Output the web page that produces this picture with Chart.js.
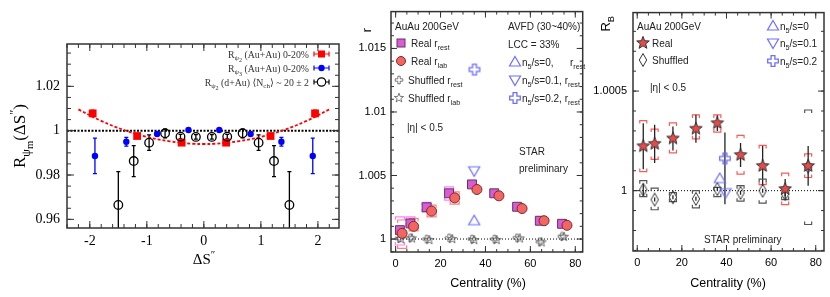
<!DOCTYPE html>
<html>
<head>
<meta charset="utf-8">
<script src="https://cdn.jsdelivr.net/npm/chart.js@4.4.0/dist/chart.umd.min.js"></script>
<style>
  html, body { margin: 0; padding: 0; background: #fff; }
  #wrap { position: relative; width: 830px; height: 297px; overflow: hidden; }
  canvas { position: absolute; top: 0; }
</style>
</head>
<body>
<div id="wrap">
  <canvas id="c1" width="350" height="297" style="left:0px"></canvas>
  <canvas id="c2" width="240" height="297" style="left:350px"></canvas>
  <canvas id="c3" width="240" height="297" style="left:590px"></canvas>
</div>
<script>
// ---------- panel 1 : R_psi(dS'') ----------
const p1XTicks = [-2, -1, 0, 1, 2];
const p1XLabels = ['-2', '-1', '0', '1', '2'];
const p1YTicks = [0.96, 0.98, 1, 1.02];
const p1YLabels = ['0.96', '0.98', '1', '1.02'];

const psi2X = [-1.95, -1.17, -0.39, 0.39, 1.17, 1.95];
const psi2AuAu = [1.0078, 0.9976, 0.9946, 0.9946, 0.9976, 1.0078];
const psi2AuAuErr = [0.0015, 0.0006, 0.0006, 0.0006, 0.0006, 0.0015];

const psi3X = [-1.91, -1.36, -0.82, -0.27, 0.27, 0.82, 1.36, 1.91];
const psi3AuAu = [0.9886, 0.9950, 0.9985, 1.0003, 1.0003, 0.9985, 0.9950, 0.9886];
const psi3AuAuErr = [0.0080, 0.0020, 0.0005, 0.0004, 0.0004, 0.0005, 0.0020, 0.0080];

const dAuX = [-1.5, -1.23, -0.96, -0.68, -0.41, -0.14, 0.14, 0.41, 0.68, 0.96, 1.23, 1.5];
const psi2dAu = [0.9665, 0.9863, 0.9946, 0.9988, 0.9973, 0.9972, 0.9972, 0.9973, 0.9988, 0.9946, 0.9863, 0.9665];
const psi2dAuErr = [0.015, 0.007, 0.0035, 0.002, 0.001, 0.001, 0.001, 0.001, 0.002, 0.0035, 0.007, 0.015];

const fitX = [-2.2, -1.8, -1.4, -1.0, -0.6, -0.2, 0, 0.2, 0.6, 1.0, 1.4, 1.8, 2.2];
const fitY = [1.0096, 1.0044, 1.0003, 0.9972, 0.9952, 0.9941, 0.9940, 0.9941, 0.9952, 0.9972, 1.0003, 1.0044, 1.0096];

// ---------- panel 2 : r vs centrality ----------
const centTicks = [0, 20, 40, 60, 80];
const centLabels = ['0', '20', '40', '60', '80'];
const p2YTicks = [1, 1.005, 1.01, 1.015];
const p2YLabels = ['1', '1.005', '1.01', '1.015'];

const restX = [1.9, 6.6, 13.8, 23.8, 34.0, 43.9, 54.1, 64.2, 74.1];
const realRest = [1.0007, 1.00123, 1.0025, 1.0036, 1.0043, 1.0036, 1.00254, 1.00144, 1.0012];
const realRestSysHi = [1.00175, 1.00175, 1.00288, 1.0041, null, null, null, null, null];
const realRestSysLo = [0.99953, 1.0010, 1.00214, 1.00306, null, null, null, null, null];

const labX = [2.9, 8.0, 16.0, 26.3, 36.2, 46.0, 56.3, 66.1, 76.3];
const realLab = [1.00045, 1.0010, 1.0022, 1.00324, 1.0039, 1.0034, 1.0024, 1.00144, 1.00108];
const realLabSysHi = [1.0015, 1.00162, 1.00267, 1.00371, null, null, null, null, null];
const realLabSysLo = [0.99927, 1.00065, 1.00175, 1.00275, null, null, null, null, null];

const shufRestX = [1.5, 6.5, 13.8, 23.8, 34.0, 44.0, 54.0, 64.2, 74.0];
const shufRest = [1.00005, 1.0001, 1.0, 1.0001, 1.0, 1.0, 1.0001, 0.9998, 1.0002];
const shufLabX = [2.3, 7.3, 15.0, 25.2, 35.0, 45.0, 55.3, 65.0, 75.0];
const shufLab = [1.0, 1.00005, 0.99992, 1.0, 0.99992, 0.99992, 1.00005, 0.99974, 1.00018];

// AVFD n5/s = 0, 0.1, 0.2
const avfd2X = [35.0, 35.0, 35.1];
const avfd2R = [1.00144, 1.00537, 1.01334];

// ---------- panel 3 : R_B vs centrality ----------
const p3YTicks = [1, 1.0005];
const p3YLabels = ['1', '1.0005'];

const rbX = [2.7, 7.8, 16.0, 26.3, 35.9, 46.3, 56.2, 66.3, 76.6];
const rbReal = [1.000223, 1.000235, 1.000262, 1.000311, 1.000339, 1.000179, 1.000124, 1.000008, 1.000124];
const rbRealErr = [0.000116, 0.000096, 0.00006, 0.00007, 0.00004, 0.00006, 0.0001, 0.00005, 0.0001];
const rbRealSysHi = [1.000352, 1.000309, 1.00034, 1.00038, 1.00038, 1.000278, 1.000227, 1.000088, 1.000185];
const rbRealSysLo = [1.000096, 1.000157, 1.00019, 1.00026, 1.000294, 1.000083, 1.00003, 0.99993, 1.000066];

const rbShuf = [1.000005, 0.999955, 0.999967, 0.999959, 1.000008, 0.999989, 1.0, 0.999983, 1.00012];
const rbShufErr = [0.00003, 0.00001, 0.00001, 0.00001, 0.00001, 0.00001, 0.00001, 0.00001, 0.00001];
const rbShufSysHi = [1.00005, 1.000013, 0.99999, 1.0, 1.000016, 1.000025, 1.000058, 1.000016, 1.000405];
const rbShufSysLo = [0.99997, 0.999904, 0.999945, 0.999914, 0.99997, 0.999947, 0.999937, 0.999955, 0.99983];

const avfd3X = [37.0, 39.6, 39.3];
const avfd3R = [1.000061, 0.99999, 1.000162];

// ---------- helpers ----------
const serif = '"Liberation Serif", "DejaVu Serif", serif';
const sans = '"Liberation Sans", Arial, sans-serif';
const AVFD = '#6e6eff';

const pts = (xs, ys) => xs.map((x, i) => ({ x: x, y: ys[i] }));

function mk(w, h, draw) {
  const c = document.createElement('canvas');
  c.width = w; c.height = h;
  const g = c.getContext('2d');
  g.translate(w / 2, h / 2);
  draw(g);
  return c;
}
function starPath(g, R, r) {
  g.beginPath();
  for (let k = 0; k < 10; k++) {
    const a = -Math.PI / 2 + k * Math.PI / 5;
    const rr = k % 2 ? r : R;
    g.lineTo(rr * Math.cos(a), rr * Math.sin(a));
  }
  g.closePath();
}
function crossPath(g, a, b) {
  g.beginPath();
  g.moveTo(-a, -b); g.lineTo(a, -b); g.lineTo(a, -a); g.lineTo(b, -a);
  g.lineTo(b, a); g.lineTo(a, a); g.lineTo(a, b); g.lineTo(-a, b);
  g.lineTo(-a, a); g.lineTo(-b, a); g.lineTo(-b, -a); g.lineTo(-a, -a);
  g.closePath();
}
const starRed = mk(16, 16, g => { starPath(g, 6.6, 2.8); g.fillStyle = '#e84a4a'; g.fill(); g.strokeStyle = '#333'; g.lineWidth = 1; g.stroke(); });
const starOpen = mk(12, 12, g => { starPath(g, 4.8, 2.0); g.strokeStyle = '#444'; g.lineWidth = 0.7; g.stroke(); });
const crossOpen = mk(10, 10, g => { crossPath(g, 1.2, 3.8); g.strokeStyle = '#444'; g.lineWidth = 0.7; g.stroke(); });
const crossBlue = mk(14, 14, g => { crossPath(g, 1.9, 5.3); g.strokeStyle = AVFD; g.lineWidth = 1.3; g.stroke(); });
const triUp = mk(14, 14, g => { g.beginPath(); g.moveTo(0, -5.5); g.lineTo(5.5, 4); g.lineTo(-5.5, 4); g.closePath(); g.strokeStyle = AVFD; g.lineWidth = 1.2; g.stroke(); });
const triDown = mk(14, 14, g => { g.beginPath(); g.moveTo(0, 5.5); g.lineTo(5.5, -4); g.lineTo(-5.5, -4); g.closePath(); g.strokeStyle = AVFD; g.lineWidth = 1.2; g.stroke(); });
const diamond = mk(10, 16, g => { g.beginPath(); g.moveTo(0, -6.5); g.lineTo(3.7, 0); g.lineTo(0, 6.5); g.lineTo(-3.7, 0); g.closePath(); g.strokeStyle = '#333'; g.lineWidth = 1; g.stroke(); });

// rich text: segs are strings or [text, kind] (1 sub, 2 sup, 3 small sub)
function rt(ctx, x, y, segs, base, family, align, color) {
  let w = 0;
  const parts = segs.map(s => {
    const t = Array.isArray(s) ? s[0] : s;
    const k = Array.isArray(s) ? s[1] : 0;
    const size = k === 0 ? base : (k === 3 ? base * 0.62 : base * 0.72);
    ctx.font = size + 'px ' + family;
    const mw = ctx.measureText(t).width;
    w += mw;
    return { t, k, size, mw };
  });
  let cx = align === 'right' ? x - w : align === 'center' ? x - w / 2 : x;
  ctx.fillStyle = color || '#000';
  ctx.textAlign = 'left';
  ctx.textBaseline = 'alphabetic';
  const by = y + base * 0.36;
  parts.forEach(p => {
    ctx.font = p.size + 'px ' + family;
    const dy = p.k === 1 ? base * 0.3 : p.k === 2 ? -base * 0.42 : p.k === 3 ? base * 0.45 : 0;
    ctx.fillText(p.t, cx, by + dy);
    cx += p.mw;
  });
}
function rtRot(ctx, x, y, segs, base, family, align, color) {
  ctx.save();
  ctx.translate(x, y);
  ctx.rotate(-Math.PI / 2);
  rt(ctx, 0, 0, segs, base, family, align, color);
  ctx.restore();
}
function bracket(ctx, x, yHi, yLo, color, w, t) {
  ctx.strokeStyle = color;
  ctx.lineWidth = 1.2;
  ctx.beginPath();
  ctx.moveTo(x - w, yHi + t); ctx.lineTo(x - w, yHi); ctx.lineTo(x + w, yHi); ctx.lineTo(x + w, yHi + t);
  ctx.moveTo(x - w, yLo - t); ctx.lineTo(x - w, yLo); ctx.lineTo(x + w, yLo); ctx.lineTo(x + w, yLo - t);
  ctx.stroke();
}

function panel(spec) {
  return {
    id: spec.id,
    beforeDatasetsDraw(chart) {
      const ctx = chart.ctx, a = chart.chartArea, ys = chart.scales.y;
      ctx.save();
      ctx.beginPath();
      ctx.rect(a.left, a.top, a.right - a.left, a.bottom - a.top);
      ctx.clip();
      const y1 = ys.getPixelForValue(1);
      ctx.strokeStyle = '#000';
      ctx.lineWidth = spec.refWidth;
      ctx.setLineDash(spec.refDash);
      ctx.beginPath(); ctx.moveTo(a.left, y1); ctx.lineTo(a.right, y1); ctx.stroke();
      ctx.setLineDash([]);
      chart.data.datasets.forEach((ds, i) => {
        const meta = chart.getDatasetMeta(i);
        meta.data.forEach((pt, j) => {
          const v = ds.data[j].y;
          if (ds.sysHi && ds.sysHi[j] != null) {
            bracket(ctx, pt.x, ys.getPixelForValue(ds.sysHi[j]), ys.getPixelForValue(ds.sysLo[j]), ds.sysColor, spec.bw, 3);
          }
          const up = ds.errUp ? ds.errUp[j] : ds.errY ? ds.errY[j] : 0;
          const dn = ds.errDn ? ds.errDn[j] : ds.errY ? ds.errY[j] : 0;
          if (up || dn) {
            const yt = ys.getPixelForValue(v + up), yb = ys.getPixelForValue(v - dn);
            ctx.strokeStyle = ds.errColor || ds.borderColor;
            ctx.lineWidth = 1.3;
            ctx.beginPath();
            ctx.moveTo(pt.x, yt); ctx.lineTo(pt.x, yb);
            if (spec.cap) {
              ctx.moveTo(pt.x - spec.cap, yt); ctx.lineTo(pt.x + spec.cap, yt);
              ctx.moveTo(pt.x - spec.cap, yb); ctx.lineTo(pt.x + spec.cap, yb);
            }
            ctx.stroke();
          }
        });
      });
      ctx.restore();
    },
    afterDatasetsDraw(chart) {
      const ctx = chart.ctx, a = chart.chartArea, xs = chart.scales.x, ys = chart.scales.y;
      ctx.save();
      ctx.strokeStyle = '#333';
      ctx.lineWidth = 1.5;
      ctx.strokeRect(a.left, a.top, a.right - a.left, a.bottom - a.top);
      ctx.lineWidth = 1;
      ctx.beginPath();
      const tick = (min, max, step, len, vertical) => {
        for (let k = Math.ceil(min / step - 1e-6); k * step <= max + 1e-9; k++) {
          const v = k * step;
          if (vertical) {
            const px = xs.getPixelForValue(v);
            ctx.moveTo(px, a.bottom); ctx.lineTo(px, a.bottom - len);
            ctx.moveTo(px, a.top); ctx.lineTo(px, a.top + len);
          } else {
            const py = ys.getPixelForValue(v);
            ctx.moveTo(a.left, py); ctx.lineTo(a.left + len, py);
            ctx.moveTo(a.right, py); ctx.lineTo(a.right - len, py);
          }
        }
      };
      tick(xs.min, xs.max, spec.xMajor, spec.tMajor, true);
      tick(xs.min, xs.max, spec.xMinor, spec.tMinor, true);
      tick(ys.min, ys.max, spec.yMajor, spec.tMajor, false);
      tick(ys.min, ys.max, spec.yMinor, spec.tMinor, false);
      ctx.stroke();
      ctx.translate(-spec.ox, 0);
      spec.texts(ctx);
      ctx.restore();
    }
  };
}

function axis(kind, min, max, ticks, labels, size, font, pad) {
  return {
    type: 'linear',
    position: kind === 'x' ? 'bottom' : 'left',
    min: min, max: max,
    grid: { display: false, drawTicks: false },
    border: { display: false },
    afterBuildTicks: s => { s.ticks = ticks.map(v => ({ value: v })); },
    afterFit: s => { if (kind === 'x') s.height = size; else s.width = size; },
    ticks: { autoSkip: false, maxRotation: 0, padding: pad, color: '#000', font: font,
      callback: (v, i) => labels[i] }
  };
}

function make(id, datasets, scales, pad, plugin) {
  return new Chart(document.getElementById(id), {
    type: 'scatter',
    data: { datasets: datasets },
    options: {
      responsive: false, animation: false, events: [],
      layout: { padding: pad },
      plugins: { legend: { display: false }, tooltip: { enabled: false } },
      scales: scales
    },
    plugins: [plugin]
  });
}

// ---------- chart 1 ----------
make('c1', [
  { data: pts(psi2X, psi2AuAu), errY: psi2AuAuErr, pointStyle: 'rect', pointRadius: 5.5,
    backgroundColor: '#ff0000', borderColor: '#ff0000', borderWidth: 0, order: 1 },
  { data: pts(psi3X, psi3AuAu), errY: psi3AuAuErr, pointStyle: 'circle', pointRadius: 3.2,
    backgroundColor: '#0000ff', borderColor: '#0000ff', borderWidth: 0, order: 2 },
  { data: pts(dAuX, psi2dAu), errY: psi2dAuErr, pointStyle: 'circle', pointRadius: 4.3,
    backgroundColor: 'rgba(0,0,0,0)', borderColor: '#000', borderWidth: 1.3, order: 0 },
  { data: pts(fitX, fitY), showLine: true, pointRadius: 0, tension: 0.4, borderColor: '#ff0000',
    borderWidth: 1.8, borderDash: [3, 2], order: 5 }
], {
  x: axis('x', -2.4, 2.37, p1XTicks, p1XLabels, 69, { family: serif, size: 14 }, 5),
  y: axis('y', 0.9561, 1.0391, p1YTicks, p1YLabels, 67, { family: serif, size: 14 }, 7)
}, { left: 0, top: 44, right: 11, bottom: 0 }, panel({
  id: 'p1', ox: 0, refWidth: 2, refDash: [2, 1.5], cap: 2, bw: 3,
  xMajor: 1, xMinor: 0.2, yMajor: 0.02, yMinor: 0.005, tMajor: 7, tMinor: 4,
  texts(ctx) {
    const f = serif, c = '#333';
    rt(ctx, 309, 54, ['R', ['\u03c8', 1], ['2', 3], ' (Au+Au) 0-20%'], 9.8, f, 'right', c);
    rt(ctx, 309, 68, ['R', ['\u03c8', 1], ['3', 3], ' (Au+Au) 0-20%'], 9.8, f, 'right', c);
    rt(ctx, 309, 82, ['R', ['\u03c8', 1], ['2', 3], ' (d+Au) \u27e8N', ['ch', 1], '\u27e9 ~ 20 \u00b1 2'], 9.8, f, 'right', c);
    // legend markers
    ctx.lineWidth = 1.2;
    ctx.strokeStyle = '#ff0000'; ctx.fillStyle = '#ff0000';
    ctx.beginPath(); ctx.moveTo(314, 54); ctx.lineTo(329, 54); ctx.moveTo(314, 51.5); ctx.lineTo(314, 56.5); ctx.moveTo(329, 51.5); ctx.lineTo(329, 56.5); ctx.stroke();
    ctx.fillRect(318, 50.5, 7, 7);
    ctx.strokeStyle = '#0000ff'; ctx.fillStyle = '#0000ff';
    ctx.beginPath(); ctx.moveTo(314, 68); ctx.lineTo(329, 68); ctx.moveTo(314, 65.5); ctx.lineTo(314, 70.5); ctx.moveTo(329, 65.5); ctx.lineTo(329, 70.5); ctx.stroke();
    ctx.beginPath(); ctx.arc(321.5, 68, 3.2, 0, Math.PI * 2); ctx.fill();
    ctx.strokeStyle = '#000';
    ctx.beginPath(); ctx.moveTo(314, 82); ctx.lineTo(317, 82); ctx.moveTo(326, 82); ctx.lineTo(329, 82); ctx.moveTo(314, 79.5); ctx.lineTo(314, 84.5); ctx.moveTo(329, 79.5); ctx.lineTo(329, 84.5); ctx.stroke();
    ctx.beginPath(); ctx.arc(321.5, 82, 4.2, 0, Math.PI * 2); ctx.stroke();
    // axis titles
    rtRot(ctx, 19, 136, ['R', ['\u03c8', 1], ['m', 3], '(\u0394S', ['\u2033', 2], ')'], 17, f, 'center', '#000');
    rt(ctx, 204, 259, ['\u0394S', ['\u2033', 2]], 15, f, 'center', '#000');
  }
}));

// ---------- chart 2 ----------
make('c2', [
  { data: pts(restX, realRest), sysHi: realRestSysHi, sysLo: realRestSysLo, sysColor: '#ff80ff',
    pointStyle: 'rect', pointRadius: 6.3, backgroundColor: '#dc5ad8', borderColor: '#5a3a5a', borderWidth: 1, order: 2 },
  { data: pts(labX, realLab), sysHi: realLabSysHi, sysLo: realLabSysLo, sysColor: '#ff8080',
    pointStyle: 'circle', pointRadius: 5, backgroundColor: '#f26563', borderColor: '#7a2b2b', borderWidth: 1, order: 1 },
  { data: pts(shufRestX, shufRest), pointStyle: crossOpen, pointRadius: 4, order: 4 },
  { data: pts(shufLabX, shufLab), pointStyle: starOpen, pointRadius: 4, order: 3 },
  { data: pts(avfd2X.slice(0, 1), avfd2R.slice(0, 1)), pointStyle: triUp, pointRadius: 5, order: 0 },
  { data: pts(avfd2X.slice(1, 2), avfd2R.slice(1, 2)), pointStyle: triDown, pointRadius: 5, order: 0 },
  { data: pts(avfd2X.slice(2, 3), avfd2R.slice(2, 3)), pointStyle: crossBlue, pointRadius: 5, order: 0 }
], {
  x: axis('x', -2.06, 83.3, centTicks, centLabels, 45, { family: sans, size: 11 }, 5),
  y: axis('y', 0.99898, 1.0179, p2YTicks, p2YLabels, 41, { family: sans, size: 11 }, 5)
}, { left: 0, top: 11, right: 4, bottom: 0 }, panel({
  id: 'p2', ox: 350, refWidth: 1, refDash: [1, 2], cap: 0, bw: 4.5,
  xMajor: 20, xMinor: 5, yMajor: 0.005, yMinor: 0.001, tMajor: 6, tMinor: 3,
  texts(ctx) {
    const f = sans, c = '#222', s = 10;
    rt(ctx, 395, 26, ['AuAu 200GeV'], s, f, 'left', c);
    ctx.fillStyle = '#dc5ad8'; ctx.strokeStyle = '#5a3a5a'; ctx.lineWidth = 1;
    ctx.fillRect(397, 39, 8, 8); ctx.strokeRect(397, 39, 8, 8);
    ctx.fillStyle = '#f26563'; ctx.strokeStyle = '#7a2b2b';
    ctx.beginPath(); ctx.arc(401, 61, 4.5, 0, Math.PI * 2); ctx.fill(); ctx.stroke();
    ctx.drawImage(crossOpen, 399 - 5, 80 - 5);
    ctx.drawImage(starOpen, 399 - 6, 98 - 6);
    rt(ctx, 411, 43, ['Real r', ['rest', 1]], s, f, 'left', c);
    rt(ctx, 411, 61, ['Real r', ['lab', 1]], s, f, 'left', c);
    rt(ctx, 408, 80, ['Shuffled r', ['rest', 1]], s, f, 'left', c);
    rt(ctx, 408, 98, ['Shuffled r', ['lab', 1]], s, f, 'left', c);
    rt(ctx, 407, 127, ['|\u03b7| < 0.5'], s, f, 'left', c);
    rt(ctx, 508, 26, ['AVFD (30~40%)'], s, f, 'left', c);
    rt(ctx, 508, 44, ['LCC = 33%'], s, f, 'left', c);
    ctx.drawImage(triUp, 515 - 7, 62 - 7);
    ctx.drawImage(triDown, 515 - 7, 80 - 7);
    ctx.drawImage(crossBlue, 515 - 7, 98 - 7);
    rt(ctx, 522, 62, ['n', ['5', 1], '/s=0,'], s, f, 'left', c);
    rt(ctx, 570, 62, ['r', ['rest', 1]], s, f, 'left', c);
    rt(ctx, 522, 80, ['n', ['5', 1], '/s=0.1, r', ['rest', 1]], s, f, 'left', c);
    rt(ctx, 522, 98, ['n', ['5', 1], '/s=0.2, r', ['rest', 1]], s, f, 'left', c);
    rt(ctx, 519, 151, ['STAR'], s, f, 'left', c);
    rt(ctx, 519, 168, ['preliminary'], s, f, 'left', c);
    rt(ctx, 488, 282, ['Centrality (%)'], 12.5, f, 'center', '#000');
    rtRot(ctx, 366, 28, ['r'], 12.5, f, 'right', '#000');
  }
}));

// ---------- chart 3 ----------
make('c3', [
  { data: pts(rbX, rbReal), errY: rbRealErr, errColor: '#222', sysHi: rbRealSysHi, sysLo: rbRealSysLo, sysColor: '#ff5a5a',
    pointStyle: starRed, pointRadius: 5, order: 1 },
  { data: pts(rbX, rbShuf), errY: rbShufErr, errColor: '#222', sysHi: rbShufSysHi, sysLo: rbShufSysLo, sysColor: '#555',
    pointStyle: diamond, pointRadius: 5, order: 2 },
  { data: pts(avfd3X.slice(0, 1), avfd3R.slice(0, 1)), pointStyle: triUp, pointRadius: 5, order: 0 },
  { data: pts(avfd3X.slice(1, 2), avfd3R.slice(1, 2)), pointStyle: triDown, pointRadius: 5, order: 0 },
  { data: pts(avfd3X.slice(2, 3), avfd3R.slice(2, 3)), errUp: [0.00013], errDn: [0.00023], errColor: '#222',
    pointStyle: crossBlue, pointRadius: 5, order: 0 }
], {
  x: axis('x', -1.9, 83.7, centTicks, centLabels, 46, { family: sans, size: 11 }, 5),
  y: axis('y', 0.999697, 1.000894, p3YTicks, p3YLabels, 43, { family: sans, size: 11 }, 6)
}, { left: 0, top: 10, right: 4, bottom: 0 }, panel({
  id: 'p3', ox: 590, refWidth: 1, refDash: [1, 2], cap: 0, bw: 3.5,
  xMajor: 20, xMinor: 5, yMajor: 0.0005, yMinor: 0.0001, tMajor: 6, tMinor: 3,
  texts(ctx) {
    const f = sans, c = '#222', s = 10;
    rt(ctx, 637, 26, ['AuAu 200GeV'], s, f, 'left', c);
    ctx.drawImage(starRed, 643 - 8, 43 - 8);
    ctx.drawImage(diamond, 643 - 5, 60 - 8);
    rt(ctx, 652, 43, ['Real'], s, f, 'left', c);
    rt(ctx, 652, 60, ['Shuffled'], s, f, 'left', c);
    rt(ctx, 650, 87, ['|\u03b7| < 0.5'], s, f, 'left', c);
    ctx.drawImage(triUp, 773 - 7, 26 - 7);
    ctx.drawImage(triDown, 773 - 7, 43 - 7);
    ctx.drawImage(crossBlue, 773 - 7, 61 - 7);
    rt(ctx, 780, 26, ['n', ['5', 1], '/s=0'], s, f, 'left', c);
    rt(ctx, 780, 43, ['n', ['5', 1], '/s=0.1'], s, f, 'left', c);
    rt(ctx, 780, 61, ['n', ['5', 1], '/s=0.2'], s, f, 'left', c);
    rt(ctx, 704, 239, ['STAR preliminary'], 10, f, 'left', c);
    rt(ctx, 728, 282, ['Centrality (%)'], 12.5, f, 'center', '#000');
    rtRot(ctx, 605, 16, ['R', ['B', 1]], 13, f, 'right', '#000');
  }
}));
</script>
</body>
</html>
